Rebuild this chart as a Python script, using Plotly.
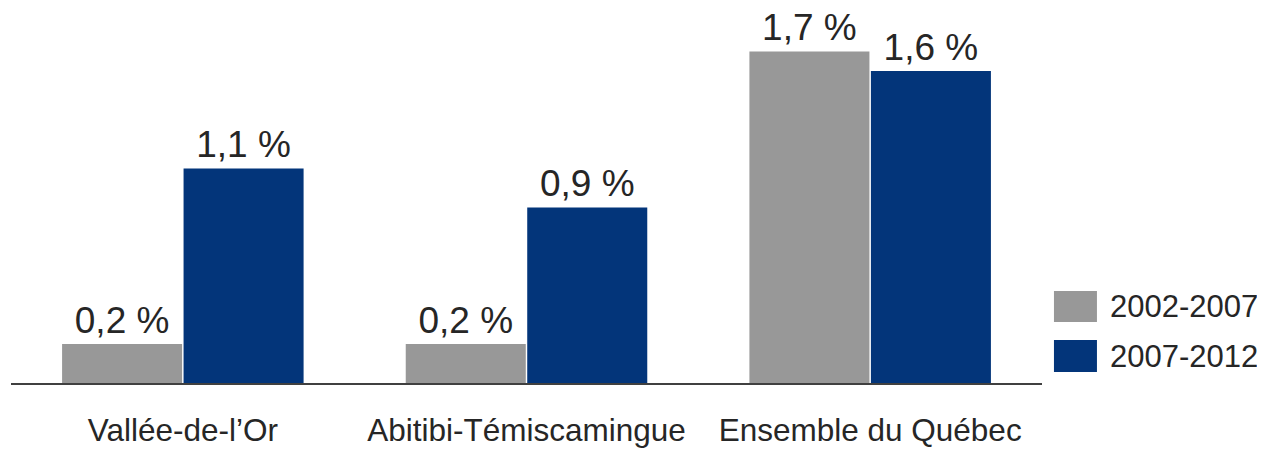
import plotly.graph_objects as go

categories = ["Vallée-de-l’Or", "Abitibi-Témiscamingue", "Ensemble du Québec"]
series_names = ["2002-2007", "2007-2012"]
values_2002_2007 = [0.2, 0.2, 1.7]
values_2007_2012 = [1.1, 0.9, 1.6]
colors = ["#989898", "#03357A"]

FONT = "Liberation Sans, Arial, sans-serif"
TXT = "#262626"

def fmt(v):
    return f"{v:.1f}".replace(".", ",") + " %"

fig = go.Figure()
for name, vals, col in zip(series_names, [values_2002_2007, values_2007_2012], colors):
    fig.add_trace(go.Bar(
        x=categories, y=vals, name=name,
        marker=dict(color=col, line=dict(width=0)),
        text=[fmt(v) for v in vals], textposition="outside",
        textfont=dict(size=37, color=TXT, family=FONT),
        cliponaxis=False, showlegend=False,
    ))

# Custom legend (large swatches) in paper coordinates
legend_px = [(291, 322), (340, 372)]  # swatch top/bottom, page pixels
ph = 361.0
for (top, bot), name, col in zip(legend_px, series_names, colors):
    y0 = (383 - bot) / ph
    y1 = (383 - top) / ph
    fig.add_shape(type="rect", xref="paper", yref="paper",
                  x0=1.0116, x1=1.0533, y0=y0, y1=y1,
                  fillcolor=col, line=dict(width=0))
    fig.add_annotation(xref="paper", yref="paper", x=1.064, y=(y0 + y1) / 2,
                       text=name, showarrow=False, xanchor="left", yanchor="middle",
                       font=dict(size=31, color=TXT, family=FONT))

# page body has an 8px margin -> compensate
fig.update_layout(
    width=1257, height=444,
    margin=dict(l=3, r=223, t=14, b=69, autoexpand=False),
    paper_bgcolor="white", plot_bgcolor="white",
    barmode="group", bargap=0.293, bargroupgap=0.012,
    font=dict(family=FONT, color=TXT),
    xaxis=dict(showline=True, linecolor="#404040", linewidth=2, ticks="",
               tickfont=dict(size=31.5, color=TXT, family=FONT), automargin=False,
               ticklabelstandoff=18, showgrid=False, zeroline=False),
    yaxis=dict(range=[0, 1.851], visible=False, showgrid=False, zeroline=False,
               automargin=False),
)

fig.write_html("out.html")
